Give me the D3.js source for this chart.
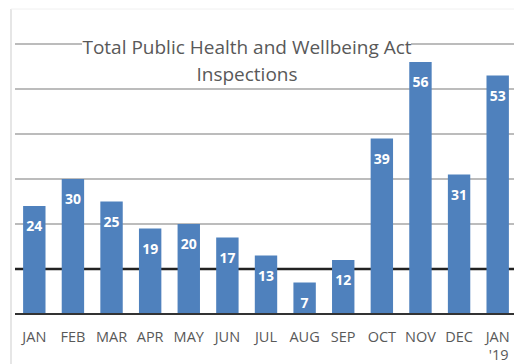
<!DOCTYPE html>
<html>
<head>
<meta charset="utf-8">
<script src="https://cdn.jsdelivr.net/npm/d3@7"></script>
<style>
  html, body { margin: 0; padding: 0; background: #fff; }
  svg { display: block; }
</style>
</head>
<body>
<svg id="chart" width="514" height="364"></svg>
<script>
// Monthly inspection counts
const months = ["JAN", "FEB", "MAR", "APR", "MAY", "JUN", "JUL", "AUG", "SEP", "OCT", "NOV", "DEC", "JAN"];
const subLabels = ["", "", "", "", "", "", "", "", "", "", "", "", "'19"];
const inspections = [24, 30, 25, 19, 20, 17, 13, 7, 12, 39, 56, 31, 53];
const gridValues = [20, 30, 40, 50, 60];
const thresholdValue = 10;
const titleLines = ["Total Public Health and Wellbeing Act", "Inspections"];

const svg = d3.select("#chart");
const font = "'Open Sans', sans-serif";

const keys = months.map((m, i) => i);
const x = d3.scaleBand().domain(keys).range([15, 517]).paddingInner(0.42).paddingOuter(0.21);
const y = d3.scaleLinear().domain([0, 60]).range([314, 44]);

// frame edges
svg.append("line").attr("x1", 11).attr("x2", 11).attr("y1", 9).attr("y2", 364)
  .attr("stroke", "#dedede").attr("stroke-width", 1.5);
svg.append("line").attr("x1", 11).attr("x2", 514).attr("y1", 9).attr("y2", 9)
  .attr("stroke", "#f0f0f0").attr("stroke-width", 1);

// gridlines
svg.append("g").selectAll("line").data(gridValues).join("line")
  .attr("x1", 15).attr("x2", 514)
  .attr("y1", d => y(d)).attr("y2", d => y(d))
  .attr("stroke", "#a6a6a6").attr("stroke-width", 1.5);

// threshold line
svg.append("line").attr("x1", 15).attr("x2", 514)
  .attr("y1", y(thresholdValue)).attr("y2", y(thresholdValue))
  .attr("stroke", "#222").attr("stroke-width", 2.5);

// title with white backing
const tx = 247;
svg.append("rect").attr("x", 82).attr("y", 32).attr("width", 329).attr("height", 52).attr("fill", "#fff");
svg.append("g").selectAll("text").data(titleLines).join("text")
  .attr("x", tx).attr("y", (d, i) => 54 + i * 27)
  .attr("text-anchor", "middle")
  .attr("font-family", font).attr("font-size", 19)
  .attr("fill", "#595959")
  .text(d => d);

// bars
svg.append("g").selectAll("rect").data(inspections).join("rect")
  .attr("x", (d, i) => x(i))
  .attr("width", x.bandwidth())
  .attr("y", d => y(d))
  .attr("height", d => y(0) - y(d))
  .attr("fill", "#4f81bd");

// value labels
svg.append("g").selectAll("text").data(inspections).join("text")
  .attr("x", (d, i) => x(i) + x.bandwidth() / 2)
  .attr("y", d => y(d) + 25)
  .attr("text-anchor", "middle")
  .attr("font-family", font).attr("font-size", 14).attr("font-weight", "bold")
  .attr("fill", "#fff")
  .text(d => d);

// baseline
svg.append("line").attr("x1", 15).attr("x2", 514)
  .attr("y1", y(0)).attr("y2", y(0))
  .attr("stroke", "#333").attr("stroke-width", 2);

// category labels
const xa = svg.append("g").attr("font-family", font).attr("font-size", 14.5).attr("fill", "#595959");
xa.selectAll("text.m").data(months).join("text").attr("class", "m")
  .attr("x", (d, i) => x(i) + x.bandwidth() / 2).attr("y", 342)
  .attr("text-anchor", "middle").text(d => d);
xa.selectAll("text.s").data(subLabels).join("text").attr("class", "s")
  .attr("x", (d, i) => x(i) + x.bandwidth() / 2 + 1).attr("y", 360)
  .attr("text-anchor", "middle").text(d => d);
</script>
</body>
</html>
